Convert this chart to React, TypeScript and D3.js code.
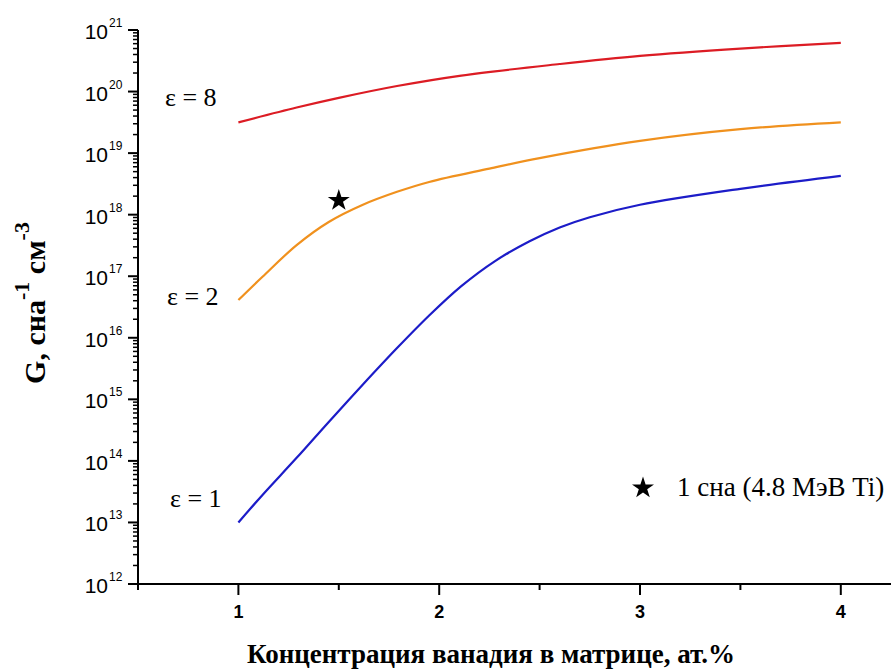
import React from "react";
import * as d3 from "d3";

// ---- data ----
const xEps8 = [1.0, 1.29, 1.5, 1.79, 2.11, 2.6, 3.0, 3.5, 4.0];
const gEps8 = [3.16e19, 5.5e19, 7.9e19, 1.23e20, 1.82e20, 2.8e20, 3.8e20, 5.0e20, 6.2e20];

const xEps2 = [1.0, 1.12, 1.29, 1.45, 1.62, 1.79, 1.95, 2.25, 2.5, 3.0, 3.5, 4.0];
const gEps2 = [4.1e16, 9.8e16, 3.2e17, 7.6e17, 1.45e18, 2.35e18, 3.4e18, 5.6e18, 8.3e18, 1.58e19, 2.45e19, 3.16e19];

const xEps1 = [1.0, 1.12, 1.29, 1.45, 1.62, 1.79, 1.95, 2.11, 2.28, 2.45, 2.6, 2.75, 3.0, 3.5, 4.0];
const gEps1 = [1.0e13, 2.8e13, 1.12e14, 4.3e14, 1.74e15, 6.8e15, 2.3e16, 6.9e16, 1.78e17, 3.7e17, 6.2e17, 9.1e17, 1.45e18, 2.63e18, 4.27e18];

const seriesLabels = ["ε = 8", "ε = 2", "ε = 1"];
const seriesColors = ["#dc1c24", "#f0911e", "#1c1cc8"];

const starX = [1.5];
const starY = [1.7e18];
const legendText = "1 сна (4.8 МэВ Ti)";

const xTickValues = [1, 2, 3, 4];
const xMinorValues = [0.5, 1.5, 2.5, 3.5];
const yExponents = [12, 13, 14, 15, 16, 17, 18, 19, 20, 21];

const xTitle = "Концентрация ванадия в матрице, ат.%";

const W = 891;
const H = 672;

export default function App() {
  const x = d3.scaleLinear().domain([0.5, 4.25]).range([138, 891]);
  const y = d3.scaleLog().domain([1e12, 1e21]).range([584, 30]);

  const line = d3
    .line<[number, number]>()
    .x((d) => x(d[0]))
    .y((d) => y(d[1]))
    .curve(d3.curveCatmullRom.alpha(0.5));

  const series = [
    { xs: xEps8, ys: gEps8 },
    { xs: xEps2, ys: gEps2 },
    { xs: xEps1, ys: gEps1 },
  ];

  const minorY: number[] = [];
  for (let e = 12; e < 21; e++) {
    for (let m = 2; m <= 9; m++) minorY.push(m * Math.pow(10, e));
  }

  const star = d3.symbol().type(d3.symbolStar).size(150)();

  const labelPos = [
    { lx: 165, ly: 106 },
    { lx: 167, ly: 305 },
    { lx: 170, ly: 507 },
  ];

  const serif = "Liberation Serif, Times New Roman, serif";
  const sans = "Liberation Sans, Arial, sans-serif";

  return (
    <svg
      width={W}
      height={H}
      style={{ position: "absolute", left: 0, top: 0, background: "#fff" }}
    >
      <rect x={0} y={0} width={W} height={H} fill="#fff" />
      {/* axes */}
      <line x1={138} x2={138} y1={y(1e21)} y2={y(1e12)} stroke="#000" strokeWidth={2} />
      <line x1={137} x2={891} y1={y(1e12)} y2={y(1e12)} stroke="#000" strokeWidth={2} />

      {/* y ticks */}
      {yExponents.map((e) => (
        <g key={"ym" + e}>
          <line x1={128} x2={138} y1={y(Math.pow(10, e))} y2={y(Math.pow(10, e))} stroke="#000" strokeWidth={2} />
          <text x={108} y={y(Math.pow(10, e)) + 9} textAnchor="end" fontFamily={sans} fontSize={21} fill="#000">
            10
          </text>
          <text x={109} y={y(Math.pow(10, e)) - 3} textAnchor="start" fontFamily={sans} fontSize={12} fill="#000">
            {e}
          </text>
        </g>
      ))}
      {minorY.map((v, i) => (
        <line key={"yn" + i} x1={133} x2={138} y1={y(v)} y2={y(v)} stroke="#000" strokeWidth={1.5} />
      ))}

      {/* x ticks */}
      {xTickValues.map((v) => (
        <g key={"xt" + v}>
          <line x1={x(v)} x2={x(v)} y1={584} y2={595} stroke="#000" strokeWidth={2} />
          <text x={x(v)} y={618} textAnchor="middle" fontFamily={sans} fontWeight="bold" fontSize={18} fill="#000">
            {v}
          </text>
        </g>
      ))}
      {xMinorValues.map((v) => (
        <line key={"xn" + v} x1={x(v)} x2={x(v)} y1={584} y2={590} stroke="#000" strokeWidth={2} />
      ))}

      {/* series */}
      {series.map((s, i) => (
        <path
          key={"s" + i}
          d={line(s.xs.map((xv, j) => [xv, s.ys[j]] as [number, number])) || ""}
          fill="none"
          stroke={seriesColors[i]}
          strokeWidth={2.2}
        />
      ))}

      {/* series labels */}
      {seriesLabels.map((t, i) => (
        <text key={"l" + i} x={labelPos[i].lx} y={labelPos[i].ly} fontFamily={serif} fontSize={26} fill="#000">
          {t}
        </text>
      ))}

      {/* star point */}
      {starX.map((sx, i) => (
        <path key={"st" + i} d={star || ""} transform={`translate(${x(sx)},${y(starY[i])})`} fill="#000" />
      ))}

      {/* legend */}
      <path d={star || ""} transform="translate(643,488)" fill="#000" />
      <text x={677} y={496} fontFamily={serif} fontSize={27} fill="#000">
        {legendText}
      </text>

      {/* axis titles */}
      <text x={491} y={663} textAnchor="middle" fontFamily={serif} fontWeight="bold" fontSize={27} fill="#000">
        {xTitle}
      </text>
      <text
        transform="translate(45,303) rotate(-90)"
        textAnchor="middle"
        fontFamily={serif}
        fontWeight="bold"
        fontSize={30}
        fill="#000"
      >
        G, сна
        <tspan dy={-16} fontSize={22}>-1</tspan>
        <tspan dy={16}> см</tspan>
        <tspan dy={-16} fontSize={22}>-3</tspan>
      </text>
    </svg>
  );
}
